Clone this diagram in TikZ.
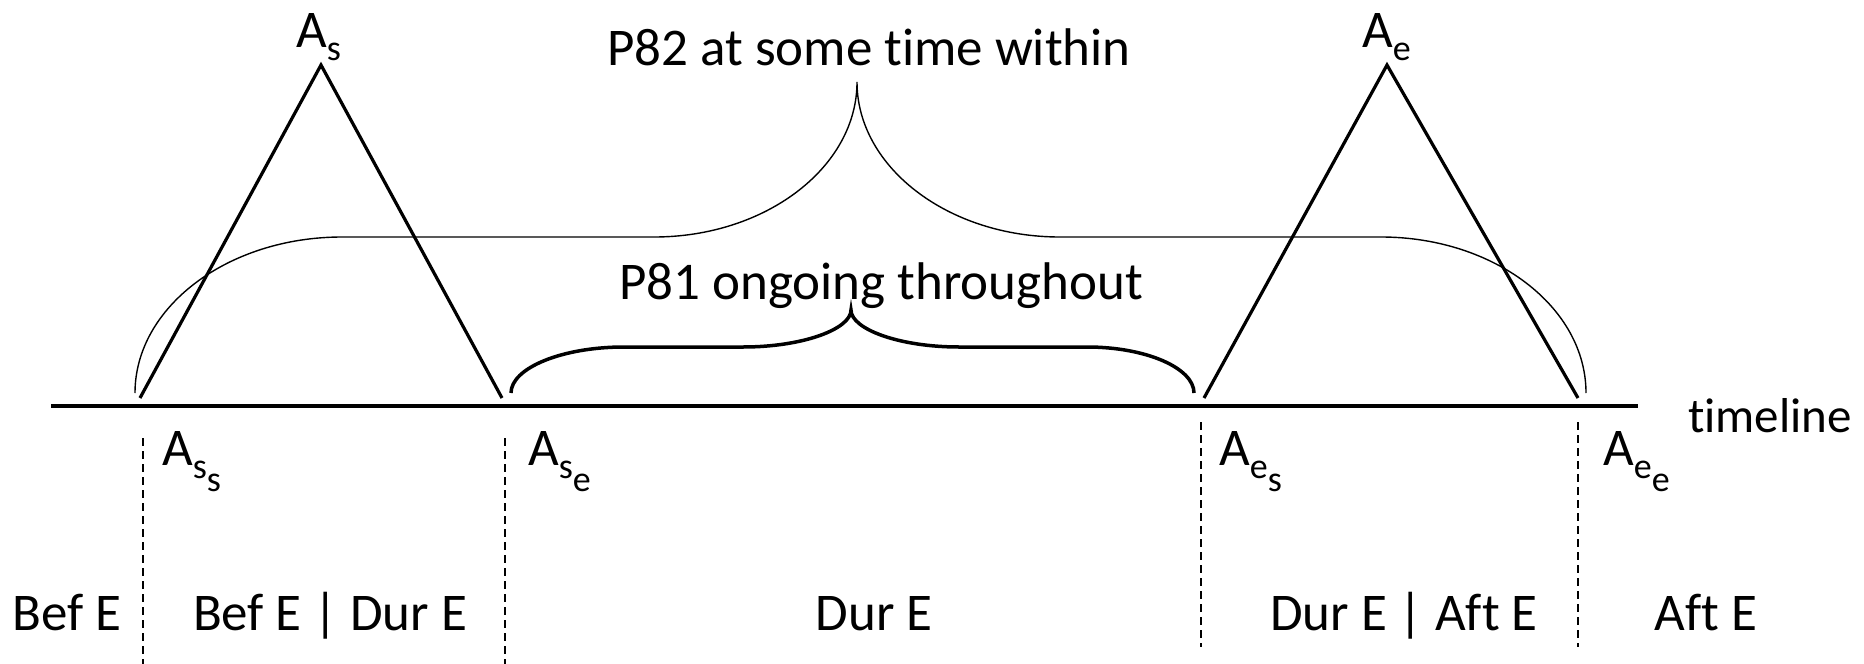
\documentclass[tikz,border=0pt]{standalone}
\usepackage{fontspec}
\setmainfont{Carlito}[Ligatures=NoCommon]
\newcommand{\sbx}[1]{\raisebox{-13pt}{\fontsize{36}{42}\selectfont #1}}
\begin{document}
\begin{tikzpicture}[x=1pt,y=-1pt,
  lbl/.style={inner sep=0pt, font=\fontsize{53}{63}\selectfont},
  tri/.style={line width=3.2pt},
  bigbrace/.style={line width=1.4pt},
  smallbrace/.style={line width=3.5pt},
  dashline/.style={line width=1.5pt, dash pattern=on 8pt off 5pt},
  tl/.style={line width=4.2pt}]
\useasboundingbox (0,0) rectangle (1864,664);
% timeline
\coordinate (tl0) at (51,406);
\coordinate (tl1) at (1638,406);
\draw[tl] (tl0) -- (tl1);
\node[lbl, font=\fontsize{49}{58}\selectfont, anchor=base east] (tlab) at (1852,432) {timeline};
% triangles
\coordinate (ss) at (140,398);
\coordinate (sa) at (321,65);
\coordinate (se) at (502,398);
\coordinate (es) at (1204,398);
\coordinate (ea) at (1387,65);
\coordinate (ee) at (1578,398);
\draw[tri] (ss) -- (sa) -- (se);
\draw[tri] (es) -- (ea) -- (ee);
\node[lbl, anchor=base west] (As) at (296,47) {A\sbx{s}};
\node[lbl, anchor=base west] (Ae) at (1362,47) {A\sbx{e}};
% big brace
\coordinate (b0) at (135,393);
\coordinate (b1) at (342,237);
\coordinate (b2) at (654,237);
\coordinate (bt) at (857,82);
\coordinate (b3) at (1060,237);
\coordinate (b4) at (1381,237);
\coordinate (b5) at (1586,393);
\draw[bigbrace] (b0) .. controls (135,307) and (228,237) .. (b1) -- (b2)
  .. controls (766,237) and (857,167) .. (bt)
  .. controls (857,167) and (948,237) .. (b3) -- (b4)
  .. controls (1494,237) and (1586,307) .. (b5);
% small brace
\coordinate (c0) at (511,393);
\coordinate (c1) at (624,347);
\coordinate (c2) at (743,347);
\coordinate (ct) at (851,310);
\coordinate (c3) at (959,347);
\coordinate (c4) at (1087,347);
\coordinate (c5) at (1194,393);
\draw[smallbrace] (c0) .. controls (511,368) and (562,347) .. (c1) -- (c2)
  .. controls (803,347) and (851,329) .. (ct)
  .. controls (851,329) and (899,347) .. (c3) -- (c4)
  .. controls (1146,347) and (1194,368) .. (c5);
\node[lbl, anchor=base] (p82) at (869,65) {P82 at some time within};
\node[lbl, anchor=base] (p81) at (881,299) {P81 ongoing throughout};
% dashed lines
\coordinate (d1a) at (143,438); \coordinate (d1b) at (143,664);
\coordinate (d2a) at (505,438); \coordinate (d2b) at (505,664);
\coordinate (d3a) at (1201,422); \coordinate (d3b) at (1201,647);
\coordinate (d4a) at (1578,422); \coordinate (d4b) at (1578,647);
\draw[dashline] (d1a) -- (d1b);
\draw[dashline] (d2a) -- (d2b);
\draw[dashline] (d3a) -- (d3b);
\draw[dashline] (d4a) -- (d4b);
\node[lbl, anchor=base west] (Ass) at (162,465) {A\sbx{s\sbx{s}}};
\node[lbl, anchor=base west] (Ase) at (528,465) {A\sbx{s\sbx{e}}};
\node[lbl, anchor=base west] (Aes) at (1219,465) {A\sbx{e\sbx{s}}};
\node[lbl, anchor=base west] (Aee) at (1603,465) {A\sbx{e\sbx{e}}};
% period labels
\node[lbl, anchor=base] (befE) at (67,630) {Bef E};
\node[lbl, anchor=base] (befdur) at (330,630) {Bef E | Dur E};
\node[lbl, anchor=base] (durE) at (874,630) {Dur E};
\node[lbl, anchor=base] (duraft) at (1404,630) {Dur E | Aft E};
\node[lbl, anchor=base] (aftE) at (1706,630) {Aft E};
\end{tikzpicture}
\end{document}
